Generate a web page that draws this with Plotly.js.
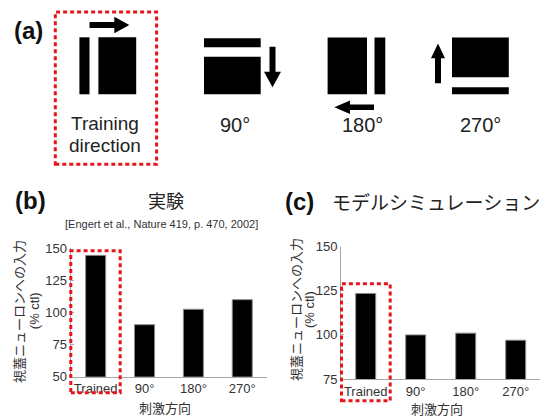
<!DOCTYPE html>
<html>
<head>
<meta charset="utf-8">
<script src="https://cdn.plot.ly/plotly-3.0.1.min.js"></script>
<style>html,body{margin:0;padding:0;background:#fff;}#chart{width:551px;height:417px;}</style>
</head>
<body>
<div id="chart"></div>
<script>
// ---- data ----
const categories = ['Trained', '90°', '180°', '270°'];
const experimentValues = [144.5, 90.5, 102.5, 110];
const simulationValues = [123.5, 100, 101, 97];
const experimentTicks = [50, 75, 100, 125, 150];
const simulationTicks = [75, 100, 125, 150];
const directionLabels = ['90°', '180°', '270°'];

// ---- helpers (pixel -> paper) ----
const W = 551, H = 417;
const X = p => p / W;
const Y = p => 1 - p / H;
const FONT = 'Liberation Sans, Arial, "Noto Sans CJK JP", sans-serif';
const JFONT = '"Noto Sans CJK JP", Liberation Sans, sans-serif';
const RED = '#e8141b';
const AXC = '#a6a6a6';

function rect(x0, y0, x1, y1) {
  return {type: 'rect', xref: 'paper', yref: 'paper', x0: X(x0), x1: X(x1), y0: Y(y1), y1: Y(y0),
          fillcolor: '#000', line: {width: 0}};
}
function pathPx(pts) {
  return 'M' + pts.map(p => X(p[0]).toFixed(5) + ',' + Y(p[1]).toFixed(5)).join(' L') + ' Z';
}
function arrowH(xs, xh, xt, yc, t, hh) {
  const pts = [[xs, yc - t/2], [xh, yc - t/2], [xh, yc - hh], [xt, yc], [xh, yc + hh], [xh, yc + t/2], [xs, yc + t/2]];
  return {type: 'path', xref: 'paper', yref: 'paper', path: pathPx(pts), fillcolor: '#000', line: {width: 0}};
}
function arrowV(ys, yh, yt, xc, t, hw) {
  const pts = [[xc - t/2, ys], [xc - t/2, yh], [xc - hw, yh], [xc, yt], [xc + hw, yh], [xc + t/2, yh], [xc + t/2, ys]];
  return {type: 'path', xref: 'paper', yref: 'paper', path: pathPx(pts), fillcolor: '#000', line: {width: 0}};
}
function redBox(x0, y0, x1, y1) {
  return {type: 'rect', xref: 'paper', yref: 'paper', x0: X(x0), x1: X(x1), y0: Y(y1), y1: Y(y0),
          fillcolor: 'rgba(0,0,0,0)', line: {color: RED, width: 3, dash: '4px,3px'}};
}
function txt(text, x, y, size, opts) {
  return Object.assign({text: text, xref: 'paper', yref: 'paper', x: X(x), y: Y(y), showarrow: false,
    xanchor: 'center', yanchor: 'middle', font: {family: FONT, size: size, color: '#222'}}, opts || {});
}

const traces = [
  {type: 'bar', x: categories, y: experimentValues, xaxis: 'x', yaxis: 'y', width: 0.41,
   marker: {color: '#000', line: {color: '#8a8a8a', width: 1}}, hoverinfo: 'none'},
  {type: 'bar', x: categories, y: simulationValues, xaxis: 'x2', yaxis: 'y2', width: 0.4,
   marker: {color: '#000', line: {color: '#8a8a8a', width: 1}}, hoverinfo: 'none'}
];

const axisCommon = {showline: true, linecolor: AXC, linewidth: 1, showgrid: false, zeroline: false,
  tickfont: {family: FONT, size: 13, color: '#333'}, fixedrange: true};

const layout = {
  width: W, height: H, margin: {l: 0, r: 0, t: 0, b: 0}, paper_bgcolor: '#fff', plot_bgcolor: 'rgba(0,0,0,0)',
  showlegend: false, font: {family: FONT},
  xaxis: Object.assign({}, axisCommon, {domain: [X(70.5), X(266.7)], anchor: 'y', type: 'category',
    categoryarray: categories, range: [-0.515, 3.5], ticks: ''}),
  yaxis: Object.assign({}, axisCommon, {domain: [Y(376.7), Y(248.3)], anchor: 'x', range: [50, 150],
    tickvals: experimentTicks, ticks: 'inside', ticklen: 3, tickcolor: AXC}),
  xaxis2: Object.assign({}, axisCommon, {domain: [X(341), X(540)], anchor: 'y2', type: 'category',
    categoryarray: categories, range: [-0.494, 3.486], ticks: ''}),
  yaxis2: Object.assign({}, axisCommon, {domain: [Y(379), Y(246.7)], anchor: 'x2', range: [75, 150],
    tickvals: simulationTicks, ticks: 'inside', ticklen: 3, tickcolor: AXC}),
  shapes: [
    // training direction icon
    rect(79.4, 37.3, 89.5, 94.3), rect(98.4, 37.3, 136.2, 94.3),
    arrowH(89.5, 114.3, 129.3, 25, 6, 8.3),
    // 90
    rect(204, 38.3, 260.7, 47.3), rect(204, 56.7, 260.7, 94.3),
    arrowV(46.7, 71.7, 87.3, 272.5, 6, 8.5),
    // 180
    rect(327.6, 37.5, 367, 94.3), rect(374.5, 37.5, 385.3, 94.3),
    arrowH(374, 350, 334.3, 107.3, 5.5, 6.7),
    // 270
    rect(452, 37.5, 508.8, 77.3), rect(452, 87.3, 508.8, 94.3),
    arrowV(83.3, 58.3, 43.5, 438, 6, 7),
    // red dotted boxes
    redBox(55.3, 12, 156.6, 164.2),
    redBox(70.8, 250.8, 120.2, 392.8),
    redBox(341.5, 283.8, 390.2, 400.8)
  ],
  annotations: [
    txt('<b>(a)</b>', 28.6, 30, 24, {font: {family: FONT, size: 24, color: '#111'}}),
    txt('Training', 104.5, 124, 19),
    txt('direction', 104.7, 145, 19),
    txt(directionLabels[0], 235.4, 125, 20),
    txt(directionLabels[1], 362.4, 125, 20),
    txt(directionLabels[2], 480.9, 125, 20),
    txt('<b>(b)</b>', 30.8, 200, 24, {font: {family: FONT, size: 24, color: '#111'}}),
    txt('実験', 166, 200, 18, {font: {family: JFONT, size: 18, color: '#222'}}),
    txt('[Engert et al., Nature 419, p. 470, 2002]', 161, 223.5, 11, {font: {family: FONT, size: 11, color: '#333'}}),
    txt('<b>(c)</b>', 299.5, 201.5, 24, {font: {family: FONT, size: 24, color: '#111'}}),
    txt('モデルシミュレーション', 435.5, 201.5, 19, {font: {family: JFONT, size: 19, color: '#222'}}),
    txt('視蓋ニューロンへの入力', 19.2, 311.7, 13, {textangle: -90, font: {family: JFONT, size: 13, color: '#333'}}),
    txt('(% ctl)', 34.2, 311, 13, {textangle: -90, font: {family: FONT, size: 13, color: '#333'}}),
    txt('刺激方向', 165, 407.7, 13, {font: {family: JFONT, size: 13, color: '#333'}}),
    txt('視蓋ニューロンへの入力', 295, 310, 13, {textangle: -90, font: {family: JFONT, size: 13, color: '#333'}}),
    txt('(% ctl)', 309, 310, 13, {textangle: -90, font: {family: FONT, size: 13, color: '#333'}}),
    txt('刺激方向', 436.7, 408.3, 13, {font: {family: JFONT, size: 13, color: '#333'}})
  ]
};

Plotly.newPlot('chart', traces, layout, {staticPlot: true, displayModeBar: false});
</script>
</body>
</html>
